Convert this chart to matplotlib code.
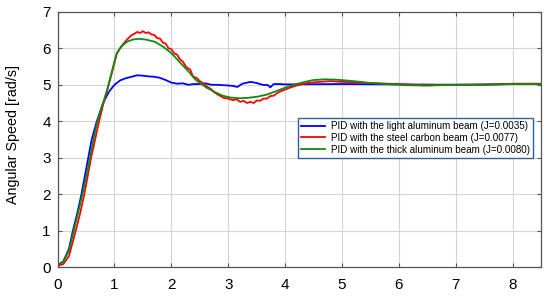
import matplotlib
matplotlib.use('Agg')
import matplotlib.pyplot as plt

plt.rcParams['font.family'] = ['Liberation Sans', 'DejaVu Sans']

# PID with the light aluminum beam (J=0.0035)
t_light = [0, 0.1, 0.2, 0.27, 0.35, 0.42, 0.48, 0.54, 0.6, 0.69, 0.8, 0.9, 1.0, 1.1, 1.2, 1.3,
           1.4, 1.5, 1.6, 1.7, 1.8, 1.9, 2.0, 2.1, 2.2, 2.3, 2.4, 2.5, 2.6, 2.7, 2.8, 2.9, 3.0,
           3.08, 3.16, 3.25, 3.39, 3.5, 3.6, 3.7, 3.74, 3.8, 3.9, 4.0, 5.0, 6.0, 7.0, 8.0, 8.5]
v_light = [0.05, 0.15, 0.5, 1.0, 1.5, 2.0, 2.5, 3.0, 3.5, 4.0, 4.5, 4.8, 5.0, 5.12, 5.18, 5.22,
           5.26, 5.25, 5.23, 5.22, 5.19, 5.13, 5.06, 5.03, 5.04, 5.0, 5.02, 5.02, 5.04, 5.0, 5.0, 4.99, 4.98,
           4.97, 4.94, 5.03, 5.08, 5.05, 5.0, 4.99, 4.93, 5.02, 5.02, 5.01, 5.02, 5.01, 5.0, 5.02, 5.02]

# PID with the steel carbon beam (J=0.0077)
t_steel = [0, 0.1, 0.2, 0.32, 0.4, 0.47, 0.53, 0.59, 0.66, 0.73, 0.8, 0.88, 0.95, 1.04, 1.12,
           1.22, 1.3, 1.35, 1.4, 1.45, 1.5, 1.55, 1.6, 1.65, 1.7, 1.75, 1.8, 1.85, 1.9, 1.95, 2.0,
           2.05, 2.1, 2.15, 2.2, 2.27, 2.33, 2.38, 2.45, 2.5, 2.56, 2.62, 2.7, 2.75, 2.83, 2.92,
           3.0, 3.08, 3.15, 3.21, 3.27, 3.33, 3.39, 3.45, 3.5, 3.56, 3.62, 3.68, 3.74, 3.8, 3.86,
           3.92, 4.05, 4.2, 4.4, 4.6, 4.8, 5.0, 5.3, 5.6, 6.0, 6.5, 7.0, 7.5, 8.0, 8.5]
v_steel = [0.03, 0.08, 0.3, 1.0, 1.5, 2.0, 2.5, 3.0, 3.5, 4.0, 4.45, 4.9, 5.3, 5.85, 6.05,
           6.24, 6.36, 6.4, 6.45, 6.42, 6.47, 6.42, 6.44, 6.38, 6.37, 6.28, 6.27, 6.16, 6.13, 6.0, 5.98,
           5.86, 5.83, 5.7, 5.64, 5.47, 5.42, 5.23, 5.18, 5.1, 5.04, 4.96, 4.88, 4.8, 4.72, 4.64,
           4.62, 4.58, 4.6, 4.53, 4.56, 4.5, 4.53, 4.5, 4.57, 4.56, 4.62, 4.62, 4.69, 4.7, 4.77,
           4.82, 4.9, 4.98, 5.05, 5.08, 5.1, 5.08, 5.06, 5.04, 5.02, 4.98, 5.0, 5.0, 5.03, 5.03]

# PID with the thick aluminum beam (J=0.0080)
t_thick = [0, 0.1, 0.2, 0.3, 0.4, 0.45, 0.52, 0.57, 0.63, 0.7, 0.78, 0.88, 0.96, 1.04, 1.12,
           1.22, 1.32, 1.42, 1.55, 1.71, 1.85, 2.0, 2.16, 2.3, 2.42, 2.5, 2.62, 2.74, 2.9, 3.04,
           3.2, 3.33, 3.5, 3.68, 3.85, 4.02, 4.2, 4.35, 4.5, 4.7, 4.9, 5.2, 5.5, 5.8, 6.1, 6.4,
           6.8, 7.2, 7.6, 8.0, 8.5]
v_thick = [0.05, 0.15, 0.45, 1.1, 1.75, 2.1, 2.6, 3.0, 3.5, 4.0, 4.4, 4.9, 5.4, 5.87, 6.05,
           6.18, 6.24, 6.26, 6.24, 6.18, 6.05, 5.87, 5.6, 5.37, 5.15, 5.05, 4.92, 4.82, 4.7, 4.65,
           4.63, 4.64, 4.67, 4.73, 4.83, 4.93, 5.02, 5.08, 5.13, 5.15, 5.14, 5.1, 5.05, 5.02, 4.99, 4.98,
           5.0, 5.0, 5.0, 5.02, 5.02]

labels = ['PID with the light aluminum beam (J=0.0035)',
          'PID with the steel carbon beam (J=0.0077)',
          'PID with the thick aluminum beam (J=0.0080)']

fig = plt.figure(figsize=(5.5, 2.97), dpi=100)
ax = fig.add_axes([0.1047, 0.101, 0.879, 0.859])

ax.plot(t_light, v_light, color='#0000ff', lw=1.3, label=labels[0])
ax.plot(t_steel, v_steel, color='#ff0000', lw=1.3, label=labels[1])
ax.plot(t_thick, v_thick, color='#108a10', lw=1.3, label=labels[2])

ax.set_xlim(0, 8.5)
ax.set_ylim(0, 7)
ax.set_xticks(range(0, 9))
ax.set_yticks(range(0, 8))
ax.grid(True, color='#d4d4d4', lw=0.8)
ax.tick_params(direction='in', top=True, right=True, labelsize=11, length=3, color='#555555')
ax.tick_params(axis='x', pad=8)
ax.tick_params(axis='y', pad=5)
for s in ax.spines.values():
    s.set_color('#555555')
    s.set_linewidth(0.9)

ax.set_ylabel('Angular Speed [rad/s]', fontsize=10.3)
ax.yaxis.set_label_coords(-0.078, 0.52)

leg = ax.legend(loc='upper left', bbox_to_anchor=(0.497, 0.584), borderaxespad=0,
                fancybox=False, fontsize=7.1, handlelength=2.5, framealpha=1,
                edgecolor='#2f5f9f', borderpad=0.3, labelspacing=0.2, handletextpad=0.6)
leg.get_frame().set_linewidth(1.0)

fig.savefig('out.png', dpi=100)
